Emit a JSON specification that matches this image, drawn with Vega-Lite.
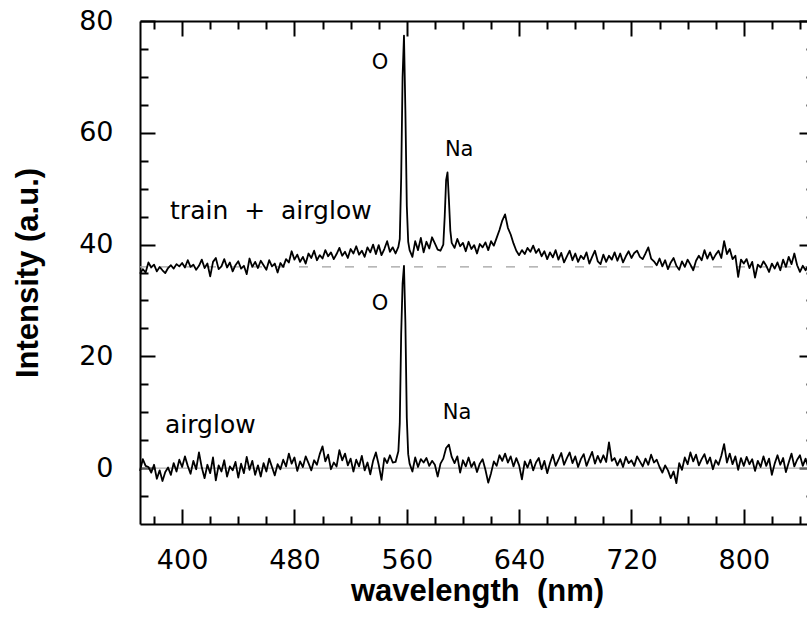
{
  "$schema": "https://vega.github.io/schema/vega-lite/v6.json",
  "width": 674,
  "height": 503,
  "autosize": {"type": "none"},
  "padding": {"left": 140, "top": 21, "right": 0, "bottom": 98},
  "background": "white",
  "config": {"view": {"stroke": null}},
  "datasets": {
    "upper": [
      [370,34.8],[372,35.6],[374,35.0],[376,36.8],[378,35.9],[380,36.4],[382,35.2],[384,36.0],[386,35.4],[388,34.9],
      [390,35.8],[392,36.3],[394,35.7],[396,36.5],[398,36.1],[400,36.7],[402,35.9],[404,37.2],[406,36.0],[408,36.4],
      [410,35.5],[412,36.2],[414,37.3],[416,35.8],[418,36.6],[420,34.3],[422,36.9],[424,37.6],[426,35.6],[428,36.1],
      [430,37.4],[432,35.9],[434,36.8],[436,35.2],[438,36.3],[440,37.0],[442,35.7],[444,36.2],[446,34.7],[448,37.5],
      [450,36.0],[452,36.9],[454,35.8],[456,37.1],[458,36.3],[460,35.5],[462,37.2],[464,36.1],[466,36.6],[468,35.0],
      [470,36.7],[472,36.0],[474,37.4],[476,36.8],[478,38.8],[480,37.3],[482,38.2],[484,36.9],[486,37.8],[488,36.6],
      [490,38.4],[492,37.6],[494,38.9],[496,37.2],[498,38.1],[500,37.5],[502,39.0],[504,37.9],[506,38.6],[508,37.4],
      [510,38.3],[512,39.4],[514,38.0],[516,38.7],[518,37.6],[520,39.2],[522,38.4],[524,39.7],[526,38.2],[528,38.9],
      [530,37.8],[532,39.5],[534,38.6],[536,40.0],[538,38.3],[540,39.9],[542,38.1],[544,39.2],[546,40.6],[548,38.7],
      [550,39.5],[552,38.4],[554,39.6],[555,41],[556,52],[557,70],[558,77.4],[559,64],[560,47],[561,40.5],
      [562,39.0],[564,37.8],[566,40.6],[568,39.0],[570,41.2],[572,38.6],[574,40.5],[576,39.3],[578,41.3],[580,40.2],
      [582,39.1],[584,38.9],[586,40.0],[587,45],[588,51.5],[589,52.9],[590,48],[591,42.5],[592,40.3],[594,39.4],
      [596,41.0],[598,39.7],[600,40.3],[602,38.8],[604,40.5],[606,39.2],[608,39.9],[610,38.4],[612,40.1],[614,39.5],
      [616,40.4],[618,39.0],[620,40.6],[622,39.8],[624,41.2],[626,42.6],[628,44.3],[630,45.4],[632,43.0],[634,41.8],
      [636,40.2],[638,38.9],[640,38.1],[642,39.0],[644,38.3],[646,39.4],[648,38.7],[650,39.8],[652,38.5],[654,39.2],
      [656,37.9],[658,38.8],[660,37.4],[662,38.6],[664,37.7],[666,39.0],[668,37.3],[670,38.5],[672,36.8],[674,37.9],
      [676,38.9],[678,37.2],[680,38.4],[682,36.9],[684,38.0],[686,37.4],[688,38.6],[690,36.6],[692,37.8],[694,38.9],
      [696,37.0],[698,36.5],[700,38.2],[702,36.9],[704,38.0],[706,37.3],[708,38.6],[710,37.1],[712,38.4],[714,36.8],
      [716,37.9],[718,38.8],[720,37.6],[722,38.5],[724,38.9],[726,37.8],[728,37.4],[730,38.4],[732,39.5],[734,37.5],
      [736,37.0],[738,36.3],[740,37.5],[742,36.1],[744,37.2],[746,35.6],[748,36.8],[750,37.6],[752,36.2],[754,35.5],
      [756,37.0],[758,36.0],[760,37.3],[762,36.4],[764,35.4],[766,37.1],[768,38.0],[770,37.2],[772,39.0],[774,37.5],
      [776,38.6],[778,37.3],[780,38.2],[782,38.9],[784,37.6],[786,40.6],[788,38.3],[790,39.2],[792,37.4],[794,38.0],
      [796,34.2],[798,37.3],[800,36.6],[802,37.4],[804,35.8],[806,36.9],[808,34.1],[810,36.4],[812,35.9],[814,37.0],
      [816,36.2],[818,35.1],[820,36.6],[822,35.7],[824,36.8],[826,35.4],[828,37.3],[830,36.0],[832,37.8],[834,36.5],
      [836,38.4],[838,36.3],[840,35.1],[842,36.2],[844,35.4],[846,36.3],[848,35.8],[850,36.0]
    ],
    "lower": [
      [370,-0.5],[372,1.6],[374,0.4],[376,0.2],[378,-0.8],[380,0.6],[382,-1.9],[384,-0.4],[386,-2.3],[388,-0.7],
      [390,0.1],[392,-1.2],[394,0.9],[396,-0.6],[398,1.5],[400,0.2],[402,2.1],[404,0.4],[406,-1.0],[408,1.3],
      [410,-0.2],[412,2.8],[414,0.1],[416,-1.8],[418,0.6],[420,-0.9],[422,1.9],[424,-2.2],[426,0.5],[428,-0.6],
      [430,1.4],[432,-1.5],[434,0.3],[436,-0.4],[438,1.1],[440,-1.7],[442,0.8],[444,-0.9],[446,2.0],[448,-0.3],
      [450,1.3],[452,-1.2],[454,0.5],[456,-1.5],[458,0.9],[460,-0.6],[462,1.7],[464,0.2],[466,-1.3],[468,0.7],
      [470,-0.2],[472,1.5],[474,0.3],[476,2.6],[478,0.8],[480,1.9],[482,-0.5],[484,1.2],[486,0.2],[488,2.1],
      [490,0.9],[492,-0.4],[494,1.4],[496,0.6],[498,2.5],[500,3.9],[502,1.2],[504,2.4],[506,-0.2],[508,1.0],
      [510,0.3],[512,3.2],[514,1.4],[516,2.6],[518,0.5],[520,1.7],[522,-0.6],[524,1.5],[526,0.3],[528,2.2],
      [530,-0.4],[532,1.0],[534,-1.1],[536,1.3],[538,2.8],[540,0.6],[542,-2.1],[544,1.8],[546,0.9],[548,2.3],
      [550,1.0],[552,1.1],[554,3.0],[555,8],[556,24],[557,33],[558,36.2],[559,26],[560,9],[561,2.5],
      [562,0.8],[564,-0.6],[566,1.9],[568,0.2],[570,1.6],[572,1.0],[574,1.8],[576,0.4],[578,1.3],[580,0.6],
      [582,-1.5],[584,0.8],[586,1.7],[588,3.6],[590,4.2],[592,2.0],[594,0.9],[596,2.1],[598,-0.8],[600,1.4],
      [602,0.3],[604,1.9],[606,0.2],[608,1.1],[610,-0.7],[612,0.8],[614,1.6],[616,-0.3],[618,-2.6],[620,-0.9],
      [622,1.2],[624,0.4],[626,2.3],[628,1.3],[630,2.6],[632,1.0],[634,2.1],[636,0.3],[638,1.8],[640,0.5],
      [642,-2.0],[644,1.2],[646,0.1],[648,1.5],[650,-0.4],[652,1.0],[654,1.8],[656,-0.2],[658,1.3],[660,-0.9],
      [662,0.9],[664,2.4],[666,0.4],[668,1.5],[670,2.7],[672,0.6],[674,1.8],[676,2.8],[678,0.9],[680,2.1],
      [682,0.2],[684,1.6],[686,2.5],[688,0.4],[690,1.7],[692,2.9],[694,0.8],[696,2.2],[698,1.0],[700,2.3],
      [702,1.1],[704,4.6],[706,1.3],[708,1.8],[710,0.5],[712,1.6],[714,0.2],[716,2.0],[718,0.9],[720,1.4],
      [722,0.4],[724,2.1],[726,1.2],[728,0.3],[730,1.7],[732,0.6],[734,2.4],[736,1.0],[738,1.5],[740,0.2],
      [742,-0.8],[744,0.5],[746,-0.4],[748,-1.8],[750,-0.6],[752,-2.7],[754,0.9],[756,-0.3],[758,1.9],[760,0.7],
      [762,2.8],[764,1.2],[766,2.4],[768,0.5],[770,1.6],[772,2.5],[774,0.8],[776,1.9],[778,-0.2],[780,1.4],
      [782,0.6],[784,2.2],[786,4.3],[788,1.0],[790,2.6],[792,0.7],[794,2.1],[796,-0.3],[798,1.8],[800,0.4],
      [802,2.0],[804,0.7],[806,1.6],[808,-0.5],[810,1.3],[812,0.2],[814,2.1],[816,0.4],[818,1.7],[820,-1.2],
      [822,0.8],[824,2.3],[826,0.6],[828,1.8],[830,-0.7],[832,1.0],[834,2.6],[836,0.3],[838,1.5],[840,2.3],
      [842,0.4],[844,1.7],[846,0.1],[848,1.2],[850,0.5]
    ],
    "peaks": [
      {"wavelength": 541, "intensity": 72.4, "label": "O"},
      {"wavelength": 597.3, "intensity": 57.0, "label": "Na"},
      {"wavelength": 541, "intensity": 29.3, "label": "O"},
      {"wavelength": 595.8, "intensity": 9.9, "label": "Na"}
    ],
    "captions": [
      {"wavelength": 391.4, "intensity": 44.5, "label": "train\u00a0 +\u00a0 airglow"},
      {"wavelength": 387.8, "intensity": 6.3, "label": "airglow"}
    ]
  },
  "resolve": {"axis": {"x": "independent", "y": "independent"}},
  "layer": [
    {
      "data": {"values": [{"intensity": 0}]},
      "mark": {"type": "rule", "color": "#9a9a9a", "strokeWidth": 1},
      "encoding": {
        "y": {"field": "intensity", "type": "quantitative", "scale": {"domain": [-10, 80], "nice": false, "zero": false}, "axis": null}
      }
    },
    {
      "data": {"values": [{"intensity": 36}]},
      "mark": {"type": "rule", "color": "#a0a0a0", "strokeWidth": 1.4, "strokeDash": [9, 14]},
      "encoding": {
        "y": {"field": "intensity", "type": "quantitative", "scale": {"domain": [-10, 80], "nice": false, "zero": false}, "axis": null}
      }
    },
    {
      "data": {"name": "upper"},
      "transform": [{"calculate": "datum[0]", "as": "wavelength"}, {"calculate": "datum[1]", "as": "intensity"}],
      "mark": {"type": "line", "color": "black", "strokeWidth": 1.8, "strokeJoin": "round"},
      "encoding": {
        "x": {
          "field": "wavelength", "type": "quantitative",
          "scale": {"domain": [370, 850], "nice": false, "zero": false},
          "axis": {
            "orient": "bottom",
            "values": [380,400,420,440,460,480,500,520,540,560,580,600,620,640,660,680,700,720,740,760,780,800,820,840],
            "tickSize": {"condition": {"test": "datum.value % 80 === 0", "value": -15}, "value": -8},
            "labelExpr": "datum.value % 80 === 0 ? datum.label : ''",
            "grid": false, "domainColor": "black", "domainWidth": 2, "tickColor": "black", "tickWidth": 2,
            "labelFont": "DejaVu Sans", "labelFontSize": 27, "labelColor": "black", "labelPadding": 38,
            "labelFlush": false, "labelOverlap": false,
            "title": "wavelength\u00a0 (nm)", "titleFont": "Liberation Sans", "titleFontSize": 31, "titleFontWeight": "bold",
            "titleColor": "black", "titlePadding": -4
          }
        },
        "y": {
          "field": "intensity", "type": "quantitative",
          "scale": {"domain": [-10, 80], "nice": false, "zero": false},
          "axis": {
            "orient": "left",
            "values": [-5,0,5,10,15,20,25,30,35,40,45,50,55,60,65,70,75,80],
            "tickSize": {"condition": {"test": "datum.value % 20 === 0", "value": -15}, "value": -8},
            "labelExpr": "datum.value % 20 === 0 ? datum.label : ''",
            "grid": false, "domainColor": "black", "domainWidth": 2, "tickColor": "black", "tickWidth": 2,
            "labelFont": "DejaVu Sans", "labelFontSize": 27, "labelColor": "black", "labelPadding": 42,
            "labelFlush": false, "labelOverlap": false,
            "title": "Intensity (a.u.)", "titleFont": "Liberation Sans", "titleFontSize": 31, "titleFontWeight": "bold",
            "titleColor": "black", "titlePadding": 34
          }
        }
      }
    },
    {
      "data": {"name": "lower"},
      "transform": [{"calculate": "datum[0]", "as": "wavelength"}, {"calculate": "datum[1]", "as": "intensity"}],
      "mark": {"type": "line", "color": "black", "strokeWidth": 1.8, "strokeJoin": "round"},
      "encoding": {
        "x": {
          "field": "wavelength", "type": "quantitative",
          "scale": {"domain": [370, 850], "nice": false, "zero": false},
          "axis": {
            "orient": "top",
            "values": [380,400,420,440,460,480,500,520,540,560,580,600,620,640,660,680,700,720,740,760,780,800,820,840],
            "tickSize": {"condition": {"test": "datum.value % 80 === 0", "value": -15}, "value": -8},
            "labels": false, "title": null, "grid": false,
            "domainColor": "black", "domainWidth": 2, "tickColor": "black", "tickWidth": 2
          }
        },
        "y": {
          "field": "intensity", "type": "quantitative",
          "scale": {"domain": [-10, 80], "nice": false, "zero": false},
          "axis": {
            "orient": "right",
            "values": [-5,0,5,10,15,20,25,30,35,40,45,50,55,60,65,70,75,80],
            "tickSize": {"condition": {"test": "datum.value % 20 === 0", "value": -15}, "value": -8},
            "labels": false, "title": null, "grid": false,
            "domainColor": "black", "domainWidth": 2, "tickColor": "black", "tickWidth": 2
          }
        }
      }
    },
    {
      "data": {"name": "peaks"},
      "mark": {"type": "text", "font": "DejaVu Sans", "fontSize": 21, "color": "black", "align": "center", "baseline": "middle"},
      "encoding": {
        "x": {"field": "wavelength", "type": "quantitative", "scale": {"domain": [370, 850], "nice": false, "zero": false}, "axis": null},
        "y": {"field": "intensity", "type": "quantitative", "scale": {"domain": [-10, 80], "nice": false, "zero": false}, "axis": null},
        "text": {"field": "label", "type": "nominal"}
      }
    },
    {
      "data": {"name": "captions"},
      "mark": {"type": "text", "font": "DejaVu Sans", "fontSize": 25, "color": "black", "align": "left", "baseline": "alphabetic"},
      "encoding": {
        "x": {"field": "wavelength", "type": "quantitative", "scale": {"domain": [370, 850], "nice": false, "zero": false}, "axis": null},
        "y": {"field": "intensity", "type": "quantitative", "scale": {"domain": [-10, 80], "nice": false, "zero": false}, "axis": null},
        "text": {"field": "label", "type": "nominal"}
      }
    }
  ]
}
